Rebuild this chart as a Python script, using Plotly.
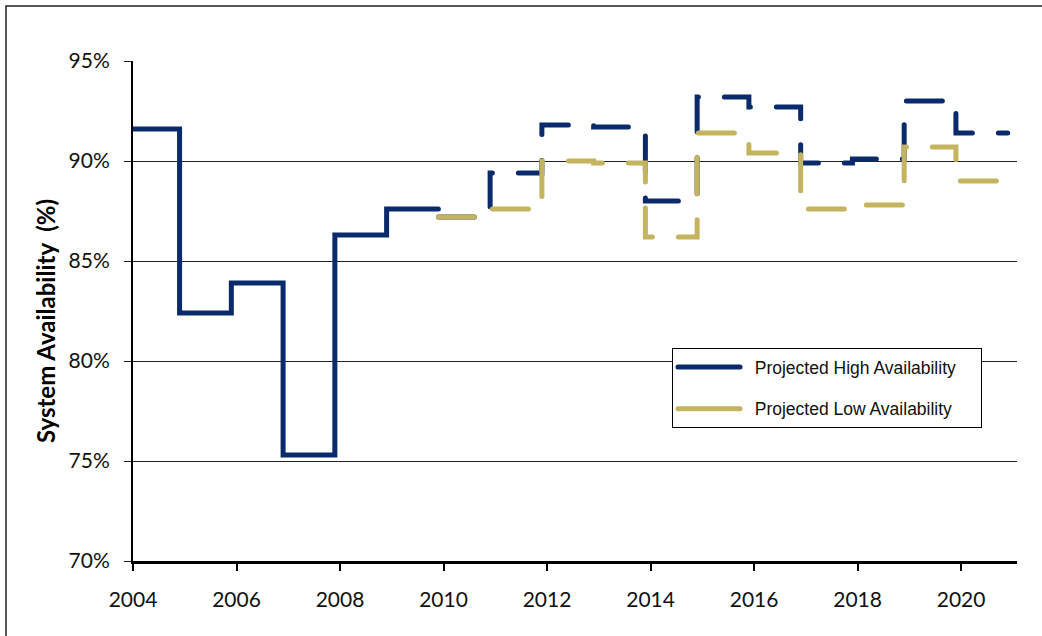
import plotly.graph_objects as go

# Step start positions (fiscal-year steps) and values (%)
hist_x = [2004, 2004.9, 2005.9, 2006.9, 2007.9, 2008.9, 2009.9]
hist_y = [91.6, 82.4, 83.9, 75.3, 86.3, 87.6, 87.6]

proj_x = [2009.9, 2010.9, 2011.9, 2012.9, 2013.9, 2014.9, 2015.9, 2016.9,
          2017.9, 2018.9, 2019.9, 2020.9]
high_y = [87.2, 89.4, 91.8, 91.7, 88.0, 93.2, 92.7, 89.9, 90.1, 93.0, 91.4, 91.4]
low_y = [87.2, 87.6, 90.0, 89.9, 86.2, 91.4, 90.4, 87.6, 87.8, 90.7, 89.0, 89.0]

y_ticks = [70, 75, 80, 85, 90, 95]
y_tick_labels = ["70%", "75%", "80%", "85%", "90%", "95%"]
x_ticks = [2004, 2006, 2008, 2010, 2012, 2014, 2016, 2018, 2020]
x_tick_labels = ["2004", "2006", "2008", "2010", "2012", "2014", "2016", "2018", "2020"]

NAVY = "#0b2a6c"
TAN = "#c4b35f"
LPAD = "\u00a0\u00a0"
PAD = "\u00a0\u00a0\u00a0\u00a0"
HIGH_NAME = "Projected High Availability"
LOW_NAME = "Projected Low Availability"

fig = go.Figure()
fig.add_trace(go.Scatter(x=hist_x, y=hist_y, mode="lines", line_shape="hv",
                         line=dict(color=NAVY, width=5), showlegend=False,
                         name="Historical Availability"))
fig.add_trace(go.Scatter(x=proj_x, y=high_y, mode="lines", line_shape="hv",
                         line=dict(color=NAVY, width=5, dash="36px,26px"),
                         name=HIGH_NAME, legendgroup="a", showlegend=False))
fig.add_trace(go.Scatter(x=proj_x, y=low_y, mode="lines", line_shape="hv",
                         line=dict(color=TAN, width=5, dash="36px,26px"),
                         name=LOW_NAME, legendgroup="b", showlegend=False))
# legend entries (solid samples, as in the original legend)
fig.add_trace(go.Scatter(x=[None], y=[None], mode="lines",
                         line=dict(color=NAVY, width=5),
                         name=LPAD + HIGH_NAME + PAD, legendgroup="a"))
fig.add_trace(go.Scatter(x=[None], y=[None], mode="lines",
                         line=dict(color=TAN, width=5),
                         name=LPAD + LOW_NAME + PAD, legendgroup="b"))

L, R, T, B = 133, 25, 61, 75
PW, PH = 1042 - L - R, 636 - T - B

fig.update_layout(
    width=1042, height=636,
    margin=dict(l=L, r=R, t=T, b=B),
    paper_bgcolor="white", plot_bgcolor="white",
    font=dict(family="Lato", size=21, color="#111"),
    xaxis=dict(range=[2004, 2021.08], tickvals=x_ticks, ticktext=x_tick_labels,
               showgrid=False,
               showline=True, linecolor="black", linewidth=2.5,
               ticks="outside", ticklen=7, tickwidth=2, tickcolor="black",
               ticklabelstandoff=11, zeroline=False),
    yaxis=dict(range=[70, 95], tickvals=y_ticks, ticktext=y_tick_labels,
               showgrid=True, gridcolor="#222", gridwidth=1,
               showline=True, linecolor="black", linewidth=2,
               ticks="outside", ticklen=7, tickwidth=1, tickcolor="#222",
               ticklabelstandoff=10, zeroline=False),
    legend=dict(x=(672 - L) / PW, y=(636 - B - 348) / PH, xanchor="left", yanchor="top",
                bordercolor="black", borderwidth=1, bgcolor="white",
                font=dict(family="Liberation Sans", size=17.5, color="#111"),
                traceorder="grouped", tracegroupgap=16, itemwidth=62),
    annotations=[dict(text="<b>System Availability  (%)</b>", textangle=-90,
                      xref="paper", yref="paper", x=(45 - L) / PW, y=(636 - B - 321) / PH,
                      xanchor="center", yanchor="middle", showarrow=False,
                      font=dict(family="Lato", size=24, color="black"))],
    shapes=[dict(type="rect", xref="paper", yref="paper",
                 x0=(6 - L) / PW, x1=(1060 - L) / PW, y0=(636 - B - 660) / PH,
                 y1=(636 - B - 6) / PH,
                 line=dict(color="#222", width=1.5), layer="below")],
)

post = """
document.body.style.margin='0';
document.documentElement.style.overflow='hidden';
function rc(){document.querySelectorAll('.js-line').forEach(function(p){
 p.style.strokeLinecap='round';});}
rc(); setTimeout(rc, 50); setTimeout(rc, 300);
"""
fig.write_html("out.html", post_script=post, config={"displayModeBar": False})
